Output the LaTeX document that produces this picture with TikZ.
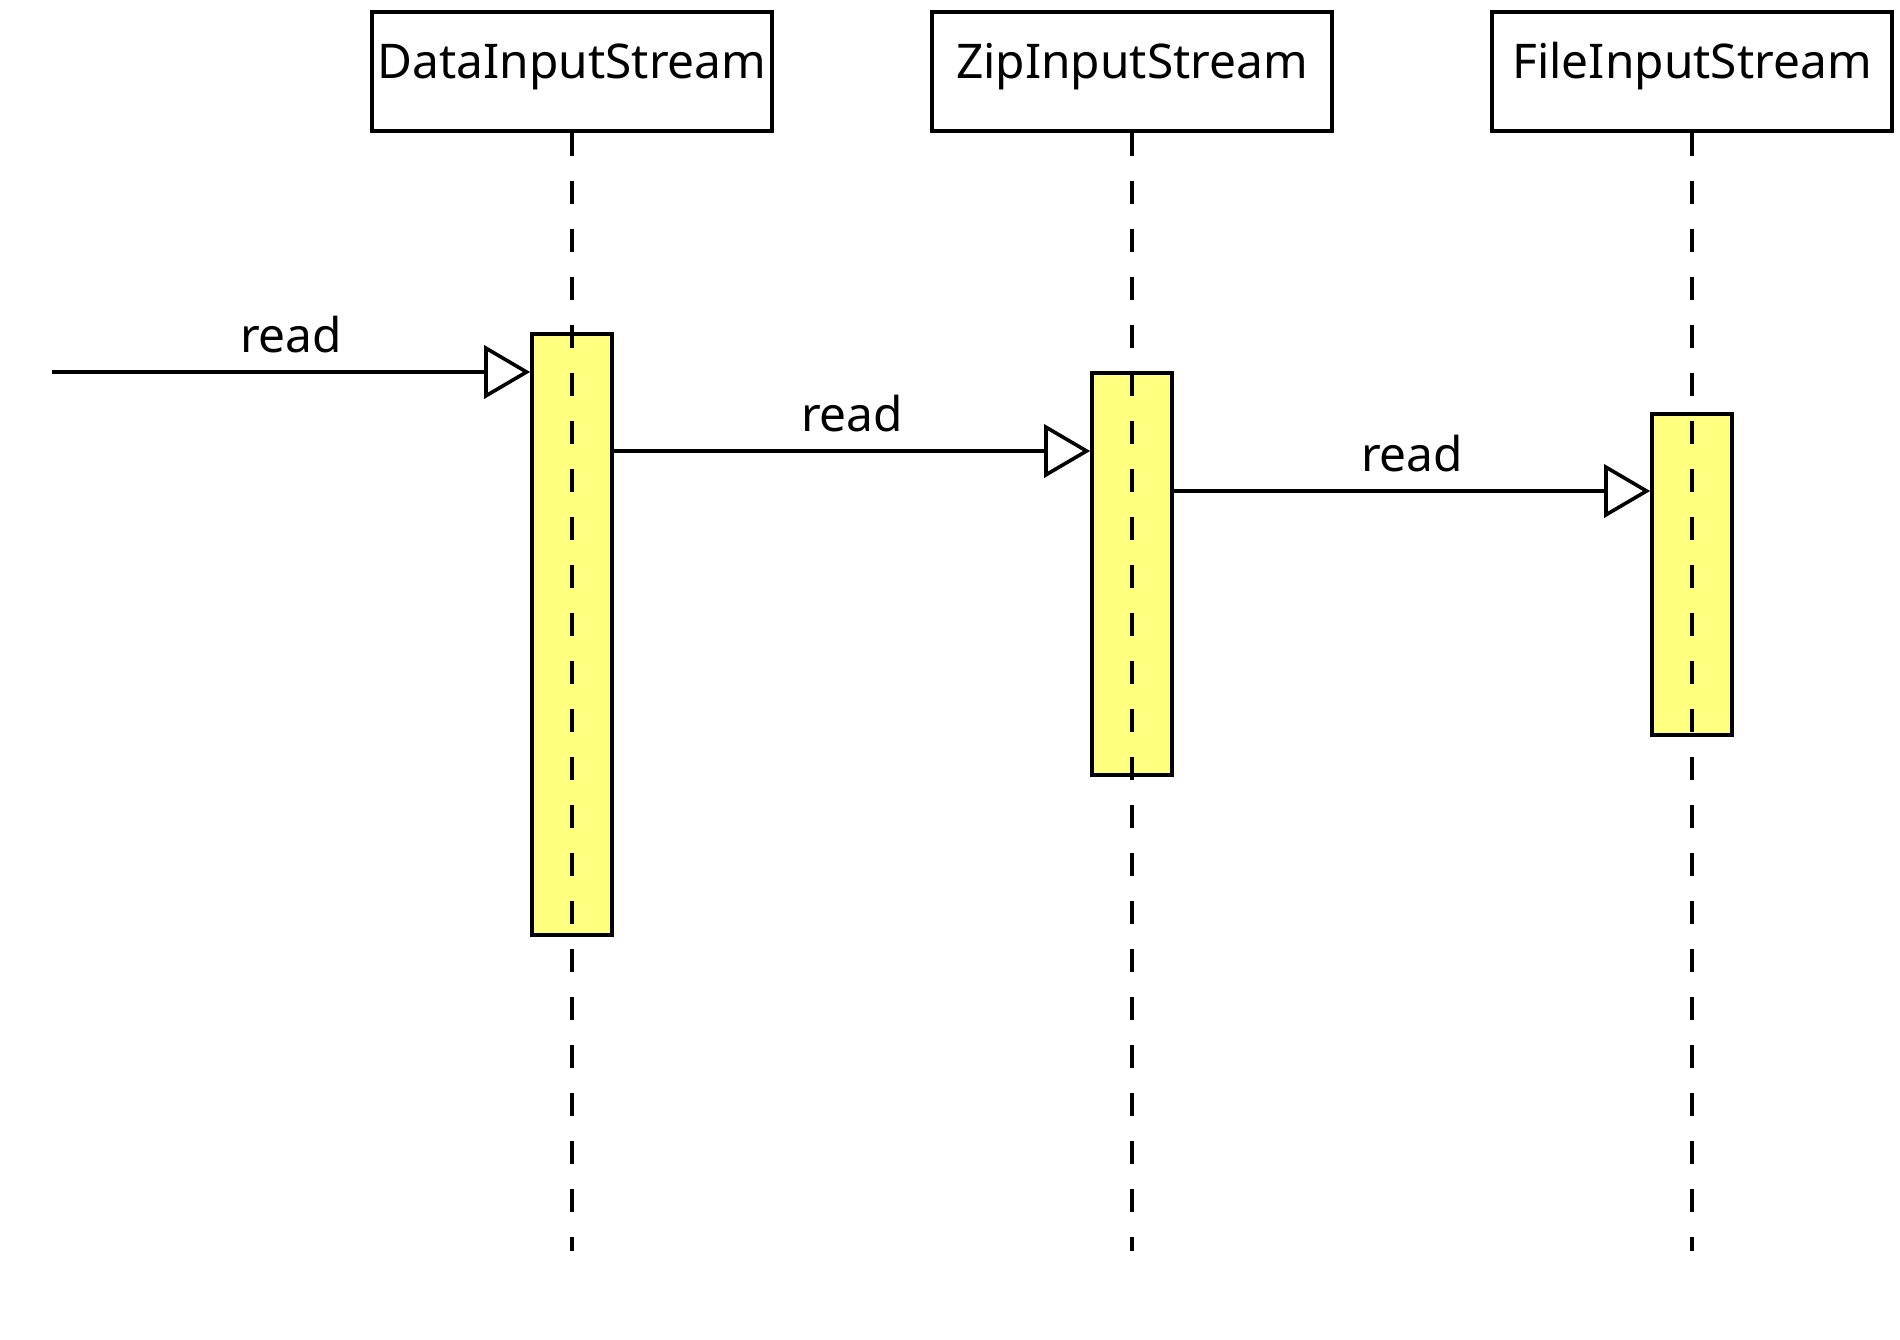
\documentclass[tikz,border=0pt]{standalone}
\usepackage{fontspec}
\setmainfont{Noto Sans}
\usetikzlibrary{arrows.meta}
\definecolor{actyellow}{RGB}{255,255,128}
\begin{document}
\begin{tikzpicture}[x=0.01cm,y=-0.01cm,
  obj/.style={draw=black, line width=0.036cm, fill=white, minimum width=4cm, minimum height=1.19cm, inner sep=0pt, text height=0.36cm, text depth=0.22cm, font=\fontsize{13.6}{16}\selectfont},
  act/.style={draw=black, line width=0.036cm, fill=actyellow, minimum width=0.8cm, inner sep=0pt, anchor=north},
  life/.style={line width=0.032cm, dash pattern=on 0.23cm off 0.25cm},
  msg/.style={line width=0.036cm, -{Triangle[length=0.46cm, width=0.53cm, fill=white]}},
  lbl/.style={font=\fontsize{13.6}{16}\selectfont, anchor=base, inner sep=0pt, yshift=0.19cm}]
\useasboundingbox (0,0) rectangle (1900,1340);
% objects
\node[obj] (dis) at (572,71.5) {DataInputStream};
\node[obj] (zis) at (1132,71.5) {ZipInputStream};
\node[obj] (fis) at (1692,71.5) {FileInputStream};
% activations
\node[act, minimum height=6.01cm] (adis) at (572,332) {};
\node[act, minimum height=4.02cm] (azis) at (1132,371) {};
\node[act, minimum height=3.21cm] (afis) at (1692,412) {};
% lifelines
\coordinate (edis) at (572,1251);
\coordinate (ezis) at (1132,1251);
\coordinate (efis) at (1692,1251);
\draw[life] (dis.south) -- (edis);
\draw[life] (zis.south) -- (ezis);
\draw[life] (fis.south) -- (efis);
% messages
\coordinate (start) at (52,372);
\coordinate (y2) at (0,451);
\coordinate (y3) at (0,491);
\draw[msg] (start) -- node[lbl, midway] {read} (start -| adis.west);
\draw[msg] (adis.east |- y2) -- node[lbl, midway] {read} (azis.west |- y2);
\draw[msg] (azis.east |- y3) -- node[lbl, midway] {read} (afis.west |- y3);
\end{tikzpicture}
\end{document}
